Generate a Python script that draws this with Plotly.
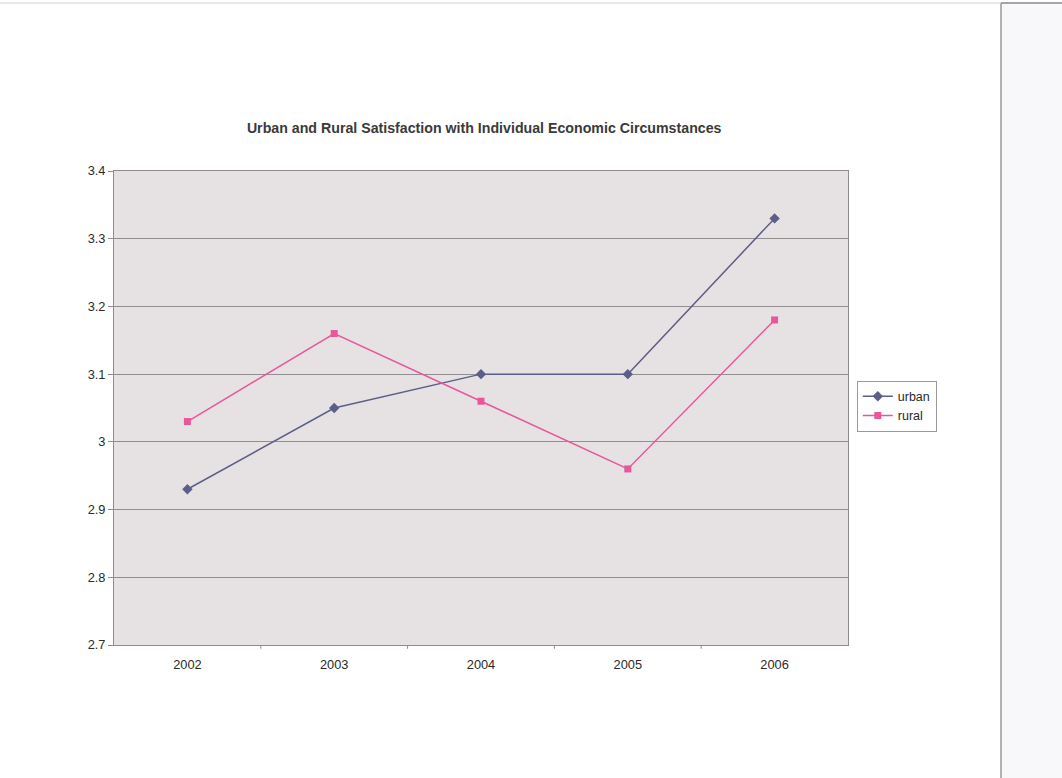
import plotly.graph_objects as go

years = ["2002", "2003", "2004", "2005", "2006"]
urban = [2.93, 3.05, 3.10, 3.10, 3.33]
rural = [3.03, 3.16, 3.06, 2.96, 3.18]
y_ticks = [2.7, 2.8, 2.9, 3.0, 3.1, 3.2, 3.3, 3.4]
y_tick_text = ["2.7", "2.8", "2.9", "3", "3.1", "3.2", "3.3", "3.4"]

FONT = "Liberation Sans, Arial, sans-serif"
TXT = "#2a2a2a"

fig = go.Figure()
fig.add_trace(go.Scatter(
    x=years, y=urban, name="urban", mode="lines+markers",
    line=dict(color="#5b5f88", width=1.5),
    marker=dict(symbol="diamond", size=8, color="#5b5f88"),
))
fig.add_trace(go.Scatter(
    x=years, y=rural, name="rural", mode="lines+markers",
    line=dict(color="#e8569b", width=1.5),
    marker=dict(symbol="square", size=7, color="#e8569b"),
))

fig.update_layout(
    width=1062, height=778,
    margin=dict(l=114, r=214, t=171, b=133),
    paper_bgcolor="white",
    plot_bgcolor="#e6e1e3",
    font=dict(family=FONT, size=12.5, color=TXT),
    title=dict(
        text="<b>Urban and Rural Satisfaction with Individual Economic Circumstances</b>",
        x=(114 + 848) / 2 / 1062 + 0.003, xanchor="center",
        y=1 - 128 / 778, yanchor="middle",
        font=dict(family=FONT, size=14.2, color="#3a3a3a"),
    ),
    showlegend=True,
    legend=dict(
        x=1.012, xanchor="left", y=0.504, yanchor="middle",
        bgcolor="white", bordercolor="#9a9a9a", borderwidth=1,
        font=dict(family=FONT, size=12.5, color=TXT),
        tracegroupgap=0, itemwidth=30,
    ),
    xaxis=dict(
        type="category", range=[-0.5, 4.5],
        showgrid=False, zeroline=False,
        showline=True, linecolor="#8c8c8c", linewidth=1, mirror=True,
        ticks="", ticklabelstandoff=8,
        tickfont=dict(size=12.8, color=TXT),
    ),
    yaxis=dict(
        range=[2.7, 3.4], tickvals=y_ticks, ticktext=y_tick_text,
        showgrid=True, gridcolor="#938e90", gridwidth=1, zeroline=False,
        showline=True, linecolor="#8c8c8c", linewidth=1, mirror=True,
        ticks="outside", ticklen=5, tickcolor="#8c8c8c",
        tickfont=dict(size=12.8, color=TXT),
    ),
)

# category boundary tick marks along the bottom axis
for i in range(1, len(years)):
    fig.add_shape(
        type="line", xref="x", yref="paper",
        x0=i - 0.5, x1=i - 0.5, y0=0, y1=-0.008,
        line=dict(color="#8c8c8c", width=1),
    )

# page edges
top_edge = 1 + (171 - 3) / 474
fig.add_shape(type="rect", xref="paper", yref="paper",
              x0=(1001 - 114) / 734, x1=(1062 - 114) / 734,
              y0=-133 / 474, y1=top_edge,
              fillcolor="#f8f8fa", line=dict(width=0), layer="below")
fig.add_shape(type="line", xref="paper", yref="paper",
              x0=(1001 - 114) / 734, x1=(1001 - 114) / 734,
              y0=-133 / 474, y1=top_edge,
              line=dict(color="#9a9a9a", width=1.5))
fig.add_shape(type="line", xref="paper", yref="paper",
              x0=(1001 - 114) / 734, x1=(1062 - 114) / 734,
              y0=top_edge, y1=top_edge,
              line=dict(color="#8a8a8a", width=1.5))
fig.add_shape(type="line", xref="paper", yref="paper",
              x0=-114 / 734, x1=(1001 - 114) / 734,
              y0=top_edge, y1=top_edge,
              line=dict(color="#d0d0d0", width=1))

fig.write_html("out.html")
